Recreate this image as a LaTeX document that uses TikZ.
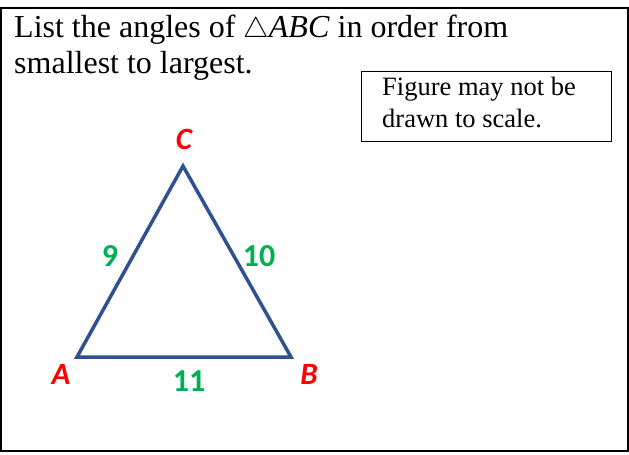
\documentclass[tikz,border=0pt]{standalone}
\usepackage{fontspec}
\setmainfont{Liberation Serif}
\newfontfamily\lblfont{Carlito}
\definecolor{triblue}{HTML}{2F528F}
\definecolor{lblred}{HTML}{FF0000}
\definecolor{lblgreen}{HTML}{00B050}
\begin{document}
\begin{tikzpicture}[x=1pt,y=-1pt,
  vlabel/.style={text=lblred,font=\lblfont\bfseries\itshape\fontsize{31}{34}\selectfont,inner sep=0pt},
  slabel/.style={text=lblgreen,font=\lblfont\bfseries\fontsize{32}{35}\selectfont,inner sep=0pt},
  title/.style={anchor=base west,inner sep=0pt,font=\fontsize{32}{36}\selectfont},
  notetext/.style={anchor=base west,inner sep=0pt,font=\fontsize{26.5}{30}\selectfont}]
\useasboundingbox (0,0) rectangle (629,455);
\draw[line width=2pt] (1,7.5) rectangle (628,451);
\node[title] (t1) at (14,37) {List the angles of \scalebox{1.15}{$\triangle$}\textit{ABC} in order from};
\node[title] (t2) at (14,73) {smallest to largest.};
\draw[line width=1pt] (361,71.5) rectangle (611,141.5);
\node[notetext] (n1) at (382,95) {Figure may not be};
\node[notetext] (n2) at (382,127) {drawn to scale.};
\coordinate (A) at (77,357);
\coordinate (B) at (291,357);
\coordinate (C) at (183,166);
\draw[triblue,line width=3.5pt,line join=miter] (A) -- (B) -- (C) -- cycle;
\node[vlabel] (lc) at (184,139) {C};
\node[vlabel] (la) at (61,374) {A};
\node[vlabel] (lb) at (309,374) {B};
\node[slabel] (l9) at (110,256) {9};
\node[slabel] (l10) at (259,256) {10};
\node[slabel] (l11) at (189,381) {11};
\end{tikzpicture}
\end{document}
